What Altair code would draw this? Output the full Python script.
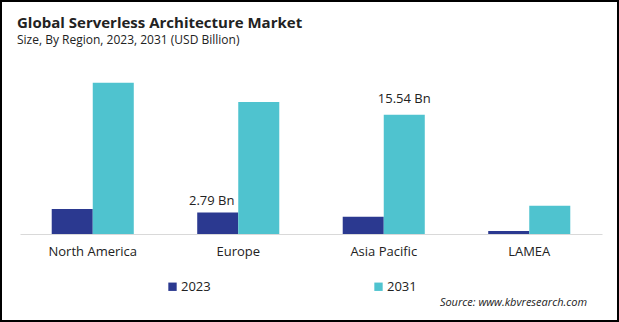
import altair as alt
import pandas as pd

regions = ["North America", "Europe", "Asia Pacific", "LAMEA"]
years = ["2023", "2031"]
values_2023 = [3.26, 2.79, 2.25, 0.40]
values_2031 = [19.70, 17.20, 15.54, 3.68]
label_region = ["Europe", "Asia Pacific"]
label_year = ["2023", "2031"]
label_value = [2.79, 15.54]
label_text = ["2.79 Bn", "15.54 Bn"]
colors = ["#2B3990", "#4FC3CF"]

rows = []
for r, a, b in zip(regions, values_2023, values_2031):
    rows.append({"region": r, "year": "2023", "value": a})
    rows.append({"region": r, "year": "2031", "value": b})
df = pd.DataFrame(rows)
lab = pd.DataFrame({"region": label_region, "year": label_year,
                    "value": label_value, "text": label_text})

FONT = "Open Sans"

x = alt.X("region:N", sort=regions, title=None,
          scale=alt.Scale(paddingInner=0.436, paddingOuter=0.218),
          axis=alt.Axis(labelAngle=0, ticks=False, domainColor="#d9d9d9",
                        labelFont=FONT, labelFontSize=13, labelColor="#222222",
                        labelPadding=11))
y = alt.Y("value:Q", scale=alt.Scale(domain=[0, 22.66]), axis=None)
xo = alt.XOffset("year:N", sort=years, scale=alt.Scale(paddingInner=0, paddingOuter=0))

bars = alt.Chart(df).mark_bar().encode(
    x=x, y=y, xOffset=xo,
    color=alt.Color("year:N", sort=years, scale=alt.Scale(domain=years, range=colors),
                    legend=alt.Legend(title=None, orient="none", direction="horizontal",
                                      legendX=146, legendY=220, symbolType="square",
                                      symbolSize=70, symbolStrokeWidth=0,
                                      labelFont=FONT, labelFontSize=13, labelColor="#222222",
                                      columnPadding=161, labelOffset=2)),
)

labels1 = alt.Chart(lab).transform_filter(alt.datum.year == "2023").mark_text(
    font=FONT, fontSize=13, color="#222222", dy=-12, dx=-6
).encode(x=alt.X("region:N", sort=regions), xOffset=xo, y=y, text="text:N")
labels2 = alt.Chart(lab).transform_filter(alt.datum.year == "2031").mark_text(
    font=FONT, fontSize=13, color="#222222", dy=-16
).encode(x=alt.X("region:N", sort=regions), xOffset=xo, y=y, text="text:N")

source = alt.Chart(pd.DataFrame({"t": ["Source: www.kbvresearch.com"]})).mark_text(
    font=FONT, fontSize=11, fontStyle="italic", align="right", baseline="alphabetic",
    color="#222222"
).encode(x=alt.value(567), y=alt.value(246), text="t:N")

frame = alt.Chart(pd.DataFrame({"t": [0]})).mark_rect(
    filled=False, stroke="#000000", strokeWidth=2
).encode(x=alt.value(-19), x2=alt.value(598), y=alt.value(-59), y2=alt.value(261))

chart = alt.layer(bars, labels1, labels2, source, frame).properties(
    width=582, height=174,
    autosize=alt.AutoSizeParams(type="none"),
    padding={"left": 20, "top": 60, "right": 17, "bottom": 88},
    title=alt.Title("Global Serverless Architecture Market",
                    subtitle="Size, By Region, 2023, 2031 (USD Billion)",
                    anchor="start", frame="group", dx=-3, offset=-46,
                    font=FONT, fontSize=15, fontWeight="bold", color="#222222",
                    subtitleFont=FONT, subtitleFontSize=12, subtitleColor="#222222",
                    subtitlePadding=4),
).configure(background="white").configure_view(strokeWidth=0, stroke=None)

chart.save("out.html", embed_options={"renderer": "svg", "actions": False})
